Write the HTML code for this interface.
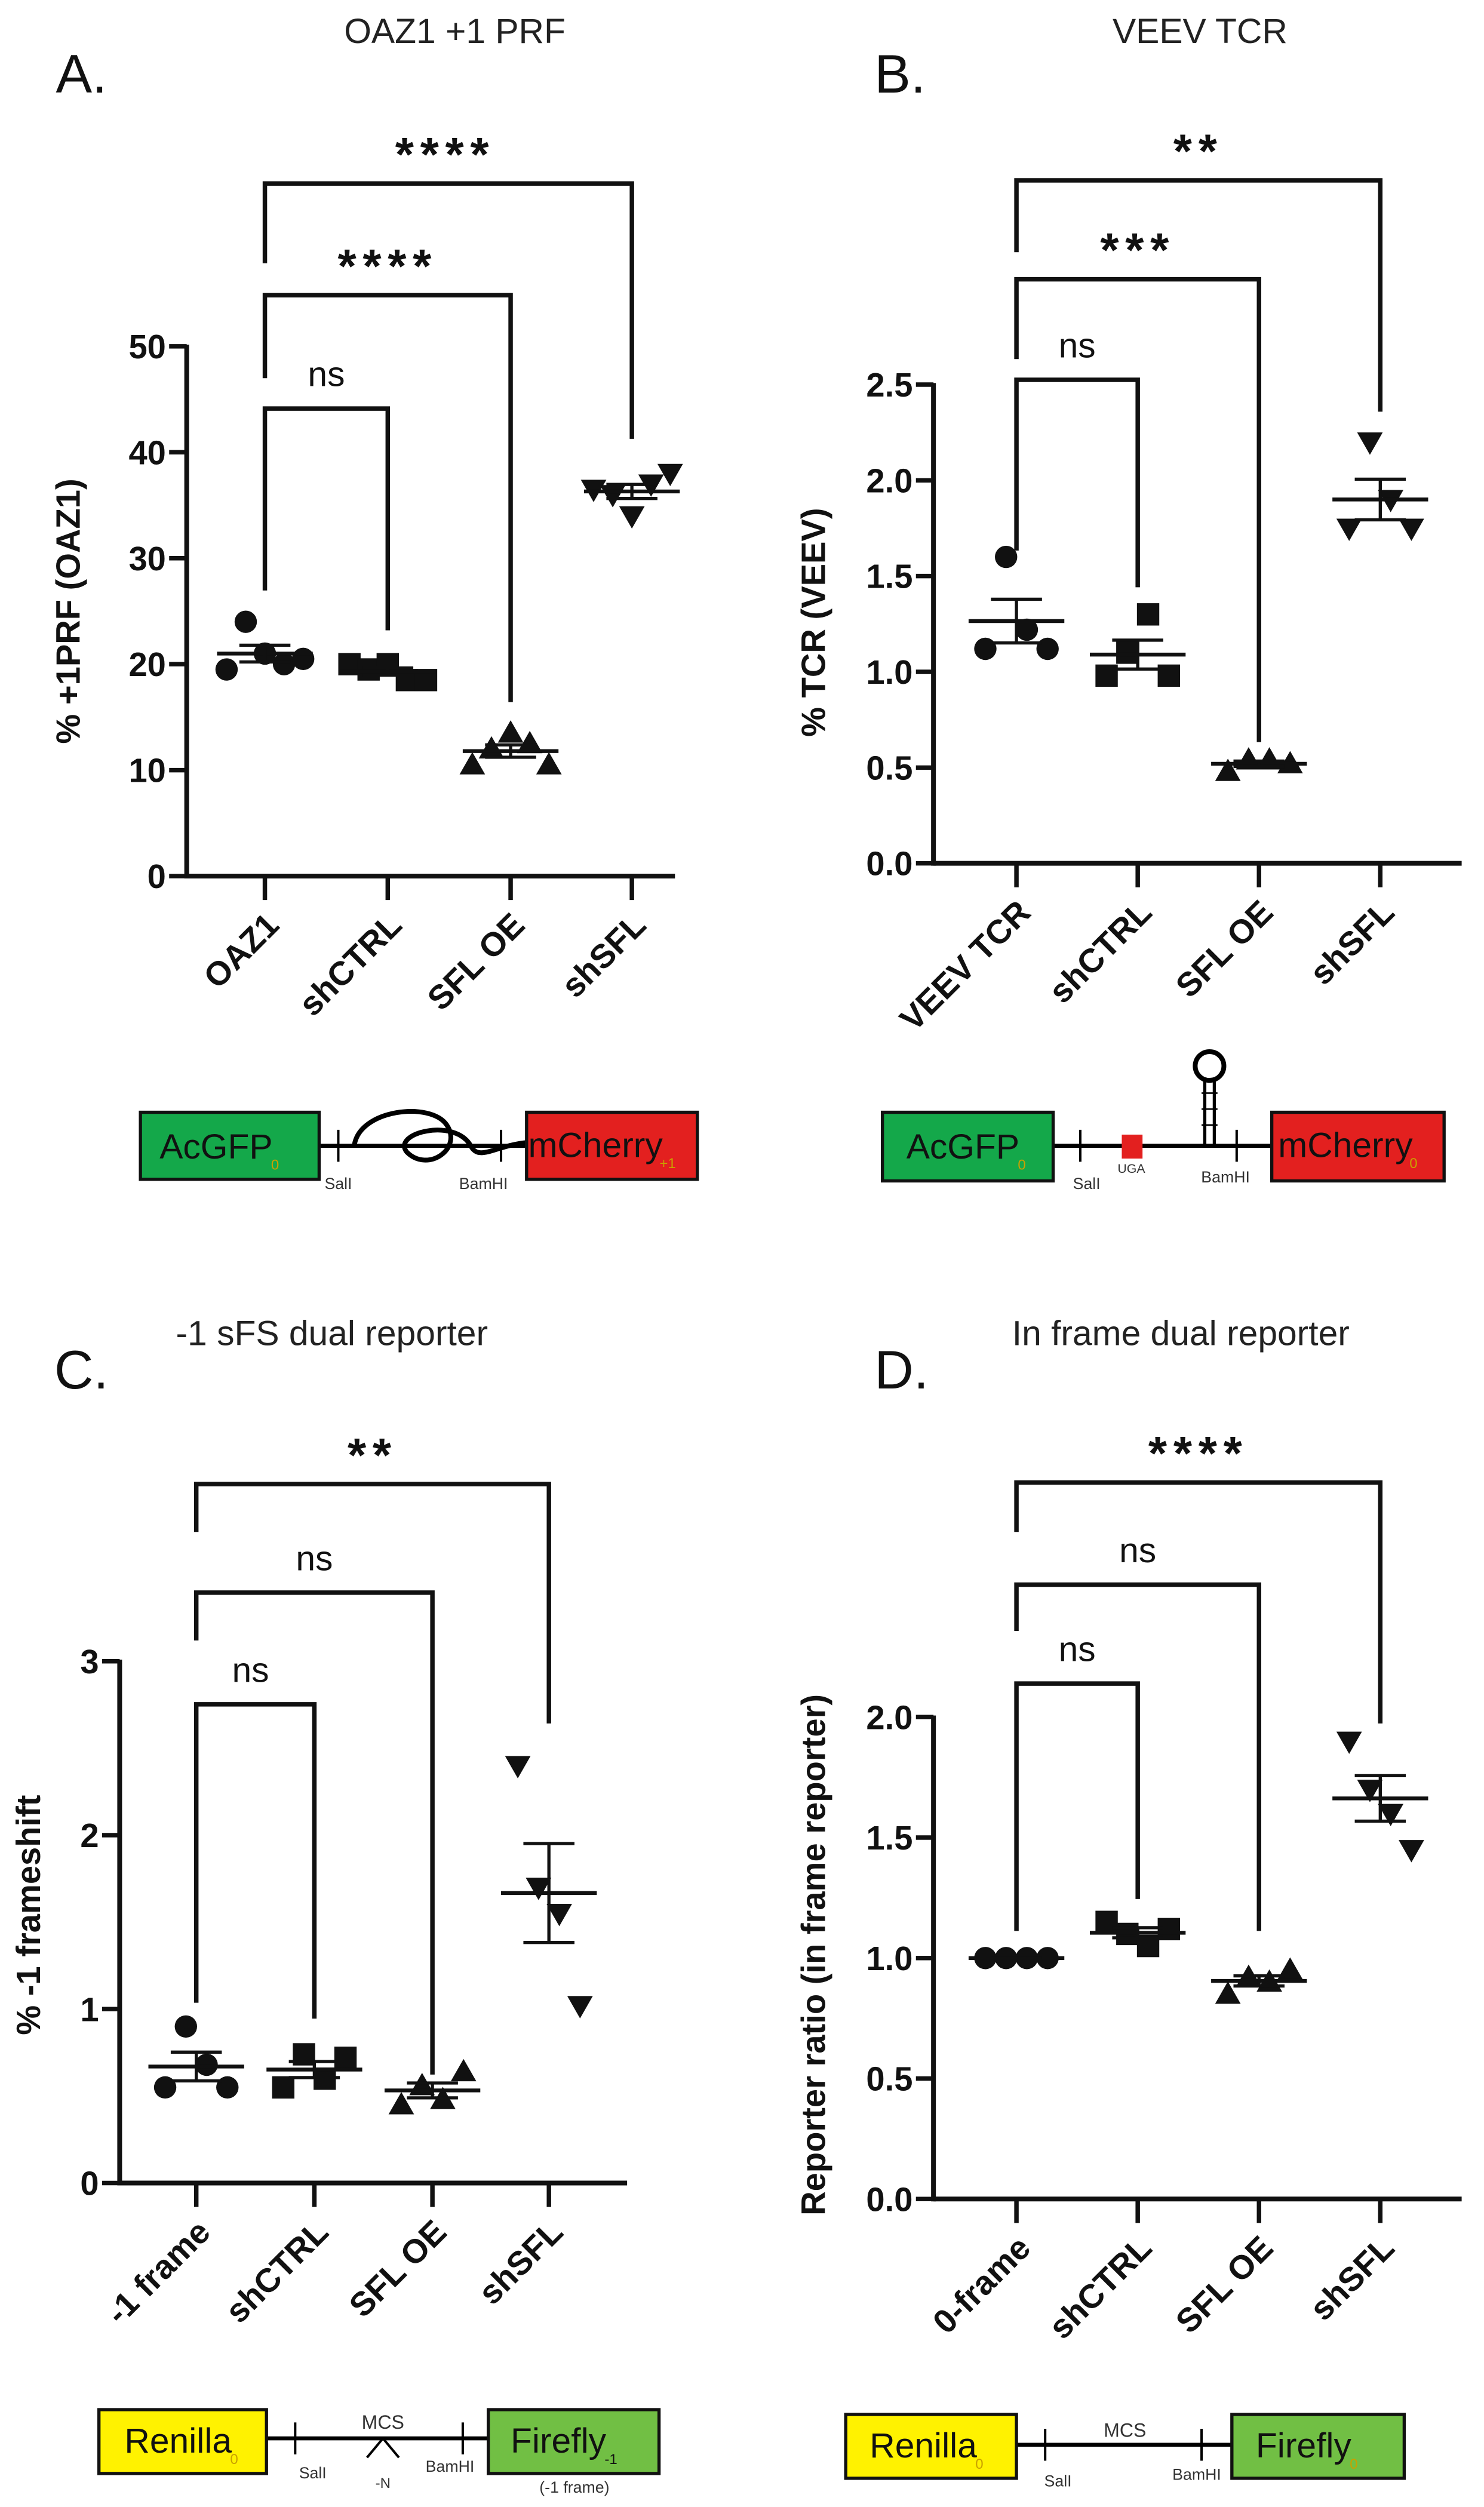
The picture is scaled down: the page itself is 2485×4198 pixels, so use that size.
<!DOCTYPE html>
<html><head><meta charset="utf-8"><style>
html,body{margin:0;padding:0;background:#fff;}
svg{display:block;}
text{font-family:"Liberation Sans",Arial,sans-serif;}
</style></head><body>
<svg id="fig" width="2485" height="4198" viewBox="0 0 930 1571" preserveAspectRatio="none" xmlns="http://www.w3.org/2000/svg">
<rect width="930" height="1571" fill="#fff"/>
<g id="static">
 <g>
  <line x1="200" y1="718" x2="330" y2="718" stroke="#000" stroke-width="2.5"/>
  <line x1="212" y1="708" x2="212" y2="728" stroke="#000" stroke-width="1.5"/>
  <line x1="314" y1="708" x2="314" y2="728" stroke="#000" stroke-width="1.5"/>
  <path d="M222 718 C225 695,270 690,280 705 C290 720,268 735,255 722 C245 710,285 700,295 718 C300 728,310 718,330 716" fill="none" stroke="#000" stroke-width="3"/>
  <rect x="88" y="697" width="112" height="42" fill="#14a84a" stroke="#111" stroke-width="2"/>
  <text x="100" y="726" font-size="22" fill="#111">AcGFP<tspan font-size="9" dy="7" dx="-1" fill="#c9a000">0</tspan></text>
  <rect x="330" y="697" width="107" height="42" fill="#e3201f" stroke="#111" stroke-width="2"/>
  <text x="331" y="725" font-size="22" fill="#111">mCherry<tspan font-size="9" dy="7" dx="-2" fill="#c9a000">+1</tspan></text>
  <text x="212" y="745" font-size="10" text-anchor="middle" fill="#333">SalI</text>
  <text x="303" y="745" font-size="10" text-anchor="middle" fill="#333">BamHI</text>
 </g>
 <g>
  <line x1="660" y1="718" x2="797" y2="718" stroke="#000" stroke-width="2.5"/>
  <line x1="677" y1="708" x2="677" y2="728" stroke="#000" stroke-width="1.5"/>
  <line x1="775" y1="708" x2="775" y2="728" stroke="#000" stroke-width="1.5"/>
  <rect x="703" y="711" width="13" height="15" fill="#e3201f"/>
  <line x1="755" y1="718" x2="755" y2="676" stroke="#000" stroke-width="2"/>
  <line x1="761" y1="718" x2="761" y2="676" stroke="#000" stroke-width="2"/>
  <line x1="753" y1="685" x2="763" y2="685" stroke="#000" stroke-width="1"/>
  <line x1="753" y1="695" x2="763" y2="695" stroke="#000" stroke-width="1"/>
  <line x1="753" y1="705" x2="763" y2="705" stroke="#000" stroke-width="1"/>
  <circle cx="758" cy="668" r="9" fill="none" stroke="#000" stroke-width="3"/>
  <rect x="553" y="697" width="107" height="43" fill="#14a84a" stroke="#111" stroke-width="2"/>
  <text x="568" y="726" font-size="22" fill="#111">AcGFP<tspan font-size="9" dy="7" dx="-1" fill="#c9a000">0</tspan></text>
  <rect x="797" y="697" width="108" height="43" fill="#e3201f" stroke="#111" stroke-width="2"/>
  <text x="801" y="725" font-size="22" fill="#111">mCherry<tspan font-size="9" dy="7" dx="-2" fill="#c9a000">0</tspan></text>
  <text x="681" y="745" font-size="10" text-anchor="middle" fill="#333">SalI</text>
  <text x="709" y="735" font-size="8" text-anchor="middle" fill="#333">UGA</text>
  <text x="768" y="741" font-size="10" text-anchor="middle" fill="#333">BamHI</text>
 </g>
 <g>
  <line x1="167" y1="1528" x2="306" y2="1528" stroke="#000" stroke-width="2.5"/>
  <line x1="185" y1="1518" x2="185" y2="1538" stroke="#000" stroke-width="1.5"/>
  <line x1="290" y1="1518" x2="290" y2="1538" stroke="#000" stroke-width="1.5"/>
  <path d="M230 1540 L240 1528 L250 1540" fill="none" stroke="#000" stroke-width="1.5"/>
  <rect x="62" y="1510" width="105" height="40" fill="#fff200" stroke="#111" stroke-width="2"/>
  <text x="78" y="1537" font-size="22" fill="#111">Renilla<tspan font-size="9" dy="7" dx="-1" fill="#c9a000">0</tspan></text>
  <rect x="306" y="1510" width="107" height="40" fill="#71bf44" stroke="#111" stroke-width="2"/>
  <text x="320" y="1537" font-size="22" fill="#111">Firefly<tspan font-size="9" dy="7" dx="-1">-1</tspan></text>
  <text x="240" y="1522" font-size="12" text-anchor="middle" fill="#333">MCS</text>
  <text x="240" y="1559" font-size="9" text-anchor="middle" fill="#333">-N</text>
  <text x="196" y="1553" font-size="10" text-anchor="middle" fill="#333">SalI</text>
  <text x="282" y="1549" font-size="10" text-anchor="middle" fill="#333">BamHI</text>
  <text x="360" y="1562" font-size="10" text-anchor="middle" fill="#333">(-1 frame)</text>
 </g>
 <g>
  <line x1="630" y1="1532" x2="772" y2="1532" stroke="#000" stroke-width="2.5"/>
  <line x1="655" y1="1522" x2="655" y2="1542" stroke="#000" stroke-width="1.5"/>
  <line x1="753" y1="1522" x2="753" y2="1542" stroke="#000" stroke-width="1.5"/>
  <rect x="530" y="1513" width="107" height="40" fill="#fff200" stroke="#111" stroke-width="2"/>
  <text x="545" y="1540" font-size="22" fill="#111">Renilla<tspan font-size="9" dy="7" dx="-1" fill="#c9a000">0</tspan></text>
  <rect x="772" y="1513" width="108" height="40" fill="#71bf44" stroke="#111" stroke-width="2"/>
  <text x="787" y="1540" font-size="22" fill="#111">Firefly<tspan font-size="9" dy="7" dx="-1" fill="#c9a000">0</tspan></text>
  <text x="705" y="1527" font-size="12" text-anchor="middle" fill="#333">MCS</text>
  <text x="663" y="1558" font-size="10" text-anchor="middle" fill="#333">SalI</text>
  <text x="750" y="1554" font-size="10" text-anchor="middle" fill="#333">BamHI</text>
 </g>
</g>
</svg>
<script>
// ---- data ----
const catsA = ["OAZ1","shCTRL","SFL OE","shSFL"];
const valsA = [[19.5,24,21,20,20.5],[20,19.5,20,18.5,18.5],[10.5,12,13.5,12.5,10.5],[36.5,36,34,37,38]];
const ticksA = [0,10,20,30,40,50];
const catsB = ["VEEV TCR","shCTRL","SFL OE","shSFL"];
const valsB = [[1.12,1.6,1.22,1.12],[0.98,1.1,1.3,0.98],[0.48,0.54,0.54,0.52],[1.75,2.2,1.9,1.75]];
const ticksB = [0,0.5,1,1.5,2,2.5];
const catsC = ["-1 frame","shCTRL","SFL OE","shSFL"];
const valsC = [[0.55,0.9,0.68,0.55],[0.55,0.74,0.6,0.72],[0.45,0.56,0.48,0.64],[2.4,1.7,1.55,1.02]];
const ticksC = [0,1,2,3];
const catsD = ["0-frame","shCTRL","SFL OE","shSFL"];
const valsD = [[1,1,1,1],[1.15,1.1,1.05,1.12],[0.85,0.92,0.9,0.95],[1.9,1.7,1.6,1.45]];
const ticksD = [0,0.5,1,1.5,2];
const markers = ["circle","square","up","down"];

const NS="http://www.w3.org/2000/svg";
const svg=document.getElementById('fig');
function mk(tag,attrs,parent){const e=document.createElementNS(NS,tag);for(const k in attrs)e.setAttribute(k,attrs[k]);(parent||svg).appendChild(e);return e;}

function panel(cfg){
  const g=mk('g',{});
  
  
  const ymax=cfg.ticks[cfg.ticks.length-1];
  const yS=v=>cfg.y0-(v/ymax)*(cfg.y0-cfg.ytop);
  const xS=i=>cfg.xc[i];
  const t=mk('text',{x:cfg.titleX,y:cfg.titleY,'font-size':22,'text-anchor':'middle',fill:'#222'},g);t.textContent=cfg.title;
  
  
  const L=mk('text',{x:cfg.letX,y:cfg.letY,'font-size':34,fill:'#111'},g);L.textContent=cfg.letter;
  
  
  const ya=mk('line',{x1:cfg.ax,y1:cfg.ytop-1,x2:cfg.ax,y2:cfg.y0+1.5,stroke:'#111','stroke-width':3},g);
  
  
  const xa=mk('line',{x1:cfg.ax,y1:cfg.y0,x2:cfg.xend,y2:cfg.y0,stroke:'#111','stroke-width':3},g);
  
  
  cfg.ticks.forEach(v=>{
    const y=yS(v);
    mk('line',{x1:cfg.ax-11,y1:y,x2:cfg.ax,y2:y,stroke:'#111','stroke-width':2.8},g);
    const tl=mk('text',{x:cfg.ax-13,y:y+7.5,'font-size':21,'font-weight':'bold','text-anchor':'end',fill:'#111'},g);
    tl.textContent=cfg.fmt(v);
    
    
  });
  const yl=mk('text',{x:0,y:0,'font-size':21,'font-weight':'bold','text-anchor':'middle',fill:'#111',transform:`translate(${cfg.ylX},${cfg.ylY}) rotate(-90)`},g);
  yl.textContent=cfg.ylabel;
  
  
  cfg.cats.forEach((c,i)=>{
    const x=xS(i);
    mk('line',{x1:x,y1:cfg.y0,x2:x,y2:cfg.y0+15,stroke:'#111','stroke-width':2.8},g);
    const cl=mk('text',{x:0,y:0,'font-size':21,'font-weight':'bold','text-anchor':'end',fill:'#111',transform:`translate(${x+10},${cfg.y0+32}) rotate(-45)`},g);
    cl.textContent=c;
    
    
  });
  cfg.vals.forEach((arr,i)=>{
    const n=arr.length, cx=xS(i);
    const mean=arr.reduce((a,b)=>a+b,0)/n;
    const sd=Math.sqrt(arr.reduce((a,b)=>a+(b-mean)*(b-mean),0)/(n-1));
    const sem=sd/Math.sqrt(n);
    const sp=n===5?12:13;
    arr.forEach((v,j)=>{
      const x=cx+(j-(n-1)/2)*sp, y=yS(v), m=markers[i];
      let e;
      if(m==='circle') e=mk('circle',{cx:x,cy:y,r:7,fill:'#111'},g);
      else if(m==='square') e=mk('rect',{x:x-7,y:y-7,width:14,height:14,fill:'#111'},g);
      else if(m==='up') e=mk('path',{d:`M${x-8} ${y+6}L${x+8} ${y+6}L${x} ${y-8}Z`,fill:'#111'},g);
      else e=mk('path',{d:`M${x-8} ${y-6}L${x+8} ${y-6}L${x} ${y+8}Z`,fill:'#111'},g);
      
      
    });
    const ym=yS(mean);
    const ml=mk('line',{x1:cx-30,y1:ym,x2:cx+30,y2:ym,stroke:'#111','stroke-width':2.4},g);
    
    
    const yh=yS(mean+sem), yl2=yS(mean-sem);
    const eb=mk('path',{d:`M${cx} ${yh}L${cx} ${yl2}M${cx-16} ${yh}L${cx+16} ${yh}M${cx-16} ${yl2}L${cx+16} ${yl2}`,stroke:'#111','stroke-width':2,fill:'none'},g);
    
    
  });
  cfg.brackets.forEach(b=>{
    const x1=xS(b.a), x2=xS(b.b);
    const p=mk('path',{d:`M${x1} ${b.l}L${x1} ${b.y}L${x2} ${b.y}L${x2} ${b.r}`,stroke:'#111','stroke-width':2.8,fill:'none'},g);
    
    
    const ns=b.lab==='ns';
    const st=mk('text',{x:(x1+x2)/2+(b.dx||0),y:b.y-(ns?14:8),'font-size':ns?22:30,'font-weight':ns?'normal':'bold','text-anchor':'middle',fill:'#111','letter-spacing':ns?0:4},g);
    st.textContent=b.lab;
    
    
  });
}
const f0=v=>String(v), f1=v=>v.toFixed(1);
panel({name:'panel-a-chart',title:'OAZ1 +1 PRF',titleX:285,titleY:27,letter:'A.',letX:35,letY:58,
  cats:catsA,vals:valsA,ticks:ticksA,fmt:f0,ax:117,xend:423,y0:549,ytop:217,xc:[166,243,320,396],
  ylabel:'% +1PRF (OAZ1)',ylX:50,ylY:383,
  brackets:[{a:0,b:3,y:115,l:165,r:275,lab:'****',dx:-2},{a:0,b:2,y:185,l:237,r:440,lab:'****'},{a:0,b:1,y:256,l:370,r:395,lab:'ns',dx:0}]});
panel({name:'panel-b-chart',title:'VEEV TCR',titleX:752,titleY:27,letter:'B.',letX:548,letY:58,
  cats:catsB,vals:valsB,ticks:ticksB,fmt:f1,ax:585,xend:916,y0:541,ytop:241,xc:[637,713,789,865],
  ylabel:'% TCR (VEEV)',ylX:517,ylY:390,
  brackets:[{a:0,b:3,y:113,l:158,r:258,lab:'**'},{a:0,b:2,y:175,l:225,r:465,lab:'***'},{a:0,b:1,y:238,l:345,r:368,lab:'ns'}]});
panel({name:'panel-c-chart',title:'-1 sFS dual reporter',titleX:208,titleY:843,letter:'C.',letX:34,letY:870,
  cats:catsC,vals:valsC,ticks:ticksC,fmt:f0,ax:75,xend:393,y0:1368,ytop:1041,xc:[123,197,271,344],
  ylabel:'% -1 frameshift',ylX:25,ylY:1200,
  brackets:[{a:0,b:3,y:930,l:960,r:1080,lab:'**'},{a:0,b:2,y:998,l:1028,r:1300,lab:'ns'},{a:0,b:1,y:1068,l:1255,r:1265,lab:'ns',dx:-3}]});
panel({name:'panel-d-chart',title:'In frame dual reporter',titleX:740,titleY:843,letter:'D.',letX:548,letY:870,
  cats:catsD,vals:valsD,ticks:ticksD,fmt:f1,ax:585,xend:916,y0:1378,ytop:1076,xc:[637,713,789,865],
  ylabel:'Reporter ratio (in frame reporter)',ylX:517,ylY:1225,
  brackets:[{a:0,b:3,y:929,l:960,r:1080,lab:'****'},{a:0,b:2,y:993,l:1022,r:1210,lab:'ns'},{a:0,b:1,y:1055,l:1210,r:1190,lab:'ns'}]});
</script>
</body></html>
